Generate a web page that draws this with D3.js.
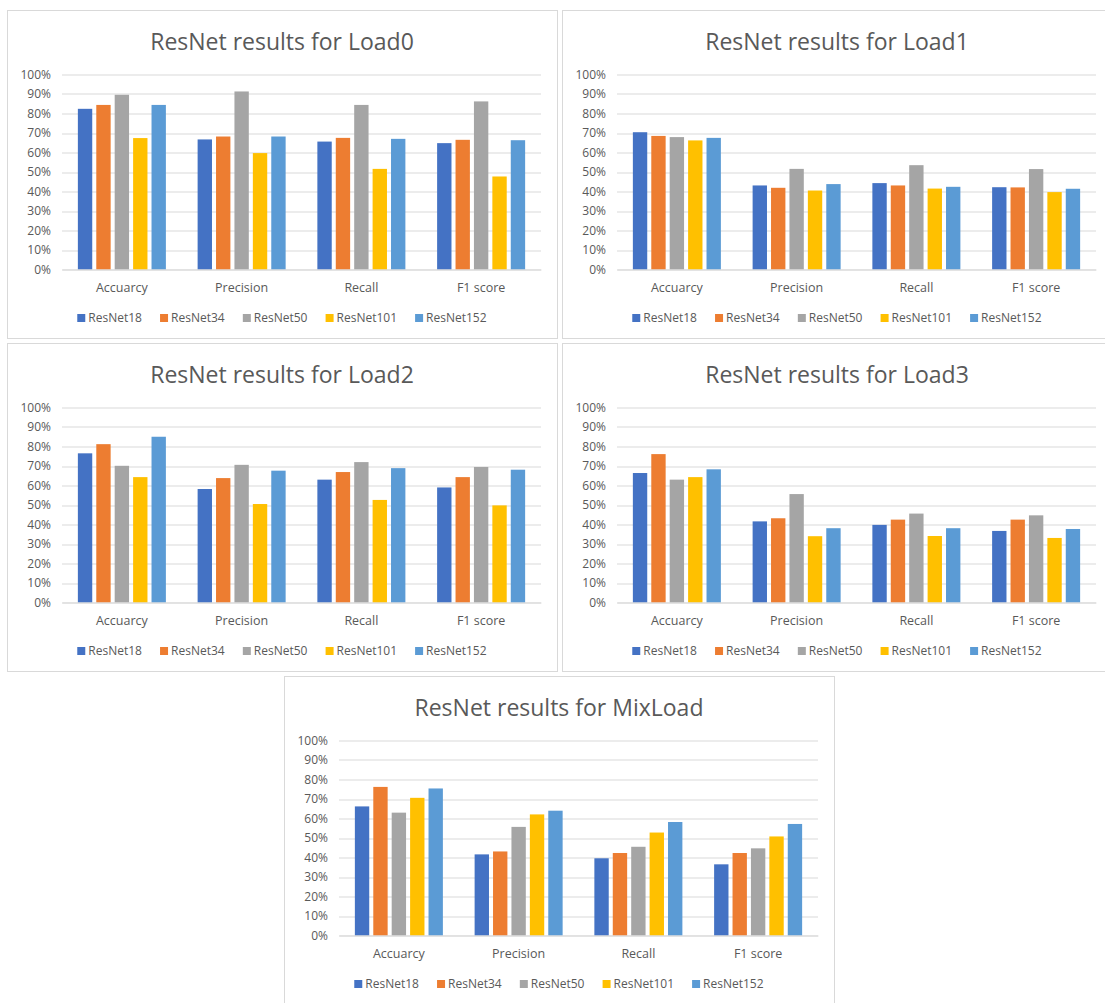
<!DOCTYPE html>
<html>
<head>
<meta charset="utf-8">
<script src="https://cdn.jsdelivr.net/npm/d3@7"></script>
<style>
  html, body { margin: 0; padding: 0; background: #ffffff; }
  svg { display: block; }
  text { font-family: "Open Sans", "Noto Sans", sans-serif; fill: #595959; }
</style>
</head>
<body>
<svg id="chart" width="1105" height="1003"></svg>
<script>
// Metric categories on the x axis
const categories = ["Accuarcy", "Precision", "Recall", "F1 score"];
// Network variants (one bar per variant in each category)
const seriesNames = ["ResNet18", "ResNet34", "ResNet50", "ResNet101", "ResNet152"];
const seriesColors = ["#4472C4", "#ED7D31", "#A5A5A5", "#FFC000", "#5B9BD5"];
// Y axis tick values
const yTicks = [0, 0.1, 0.2, 0.3, 0.4, 0.5, 0.6, 0.7, 0.8, 0.9, 1.0];

// Scores per load condition: rows = networks, columns = metrics
const load0 = [
  [0.824, 0.667, 0.656, 0.648],
  [0.844, 0.682, 0.675, 0.665],
  [0.896, 0.913, 0.844, 0.862],
  [0.674, 0.597, 0.516, 0.477],
  [0.844, 0.682, 0.670, 0.663]
];
const load1 = [
  [0.704, 0.431, 0.443, 0.422],
  [0.685, 0.419, 0.431, 0.421],
  [0.679, 0.516, 0.535, 0.515],
  [0.662, 0.405, 0.415, 0.397],
  [0.675, 0.438, 0.424, 0.414]
];
const load2 = [
  [0.765, 0.582, 0.630, 0.590],
  [0.812, 0.638, 0.669, 0.643],
  [0.701, 0.706, 0.720, 0.695],
  [0.643, 0.505, 0.526, 0.498],
  [0.850, 0.676, 0.689, 0.681]
];
const load3 = [
  [0.664, 0.416, 0.398, 0.367],
  [0.761, 0.432, 0.425, 0.425],
  [0.630, 0.556, 0.456, 0.447],
  [0.643, 0.340, 0.341, 0.331],
  [0.683, 0.381, 0.381, 0.377]
];
const mixLoad = [
  [0.662, 0.416, 0.396, 0.365],
  [0.762, 0.431, 0.423, 0.423],
  [0.630, 0.557, 0.455, 0.447],
  [0.706, 0.621, 0.528, 0.508],
  [0.754, 0.640, 0.582, 0.572]
];

const titles = ["ResNet results for Load0", "ResNet results for Load1",
                "ResNet results for Load2", "ResNet results for Load3",
                "ResNet results for MixLoad"];
const datasets = [load0, load1, load2, load3, mixLoad];

// Panel frames
const panels = [
  { x: 7,   y: 10 },
  { x: 562, y: 10 },
  { x: 7,   y: 343 },
  { x: 562, y: 343 },
  { x: 284, y: 676 }
];
const PW = 550, PH = 328;
const plot = { left: 55, top: 64.5, width: 479, height: 195 };
const FONT = '"Open Sans", "Noto Sans", sans-serif';

const svg = d3.select("#chart");

panels.forEach((p, i) => {
  const data = datasets[i];
  const g = svg.append("g").attr("transform", `translate(${p.x},${p.y})`);

  g.append("rect")
    .attr("x", 0.5).attr("y", 0.5)
    .attr("width", PW).attr("height", PH)
    .attr("fill", "#ffffff")
    .attr("stroke", "#D9D9D9").attr("stroke-width", 1);

  g.append("text")
    .attr("x", PW / 2).attr("y", 40)
    .attr("text-anchor", "middle")
    .style("font-size", "23px")
    .text(titles[i]);

  const pg = g.append("g").attr("transform", `translate(${plot.left},${plot.top})`);

  const y = d3.scaleLinear().domain([0, 1]).range([plot.height, 0]);
  const x0 = d3.scaleBand().domain(categories).range([0, plot.width]).padding(0);
  const groupW = x0.bandwidth() * 0.735;
  const x1 = d3.scaleBand().domain(seriesNames).range([0, groupW]).paddingInner(0.22).paddingOuter(0);

  // gridlines
  pg.append("g")
    .selectAll("line")
    .data(yTicks)
    .join("line")
    .attr("x1", 0).attr("x2", plot.width)
    .attr("y1", d => Math.round(y(d)) + 0.5).attr("y2", d => Math.round(y(d)) + 0.5)
    .attr("stroke", "#D9D9D9").attr("stroke-width", 1);

  // y axis labels
  const yAxis = d3.axisLeft(y).tickValues(yTicks).tickFormat(d3.format(".0%")).tickSize(0).tickPadding(11);
  const ya = pg.append("g").call(yAxis);
  ya.select(".domain").remove();
  ya.selectAll("text").style("font-size", "12px").attr("fill", "#595959")
    .style("font-family", FONT);

  // bars
  const groups = pg.append("g")
    .selectAll("g")
    .data(categories)
    .join("g")
    .attr("transform", d => `translate(${x0(d) + (x0.bandwidth() - groupW) / 2},0)`);

  groups.selectAll("rect")
    .data((c, ci) => seriesNames.map((s, si) => ({ s, si, v: data[si][ci] })))
    .join("rect")
    .attr("x", d => x1(d.s))
    .attr("width", x1.bandwidth())
    .attr("y", d => y(d.v))
    .attr("height", d => y(0) - y(d.v))
    .attr("fill", d => seriesColors[d.si]);

  // x axis labels
  const xAxis = d3.axisBottom(x0).tickSize(0).tickPadding(14);
  const xa = pg.append("g").attr("transform", `translate(0,${plot.height})`).call(xAxis);
  xa.select(".domain").attr("stroke", "#D9D9D9");
  xa.selectAll("text").style("font-size", "12.5px").attr("fill", "#595959")
    .style("font-family", FONT);

  // legend
  const legend = g.append("g").attr("transform", `translate(0,${308})`);
  const items = legend.selectAll("g").data(seriesNames).join("g");
  items.append("rect")
    .attr("width", 8).attr("height", 8).attr("y", -4)
    .attr("fill", (d, k) => seriesColors[k]);
  items.append("text")
    .attr("x", 11).attr("dy", "0.35em")
    .style("font-size", "12px")
    .text(d => d);
  // lay legend items out in a centered row
  let offs = [], cx = 0;
  items.each(function () {
    const w = this.getBBox().width;
    offs.push(cx);
    cx += w + 18;
  });
  const totalW = cx - 18;
  const startX = (PW - totalW) / 2;
  items.attr("transform", (d, k) => `translate(${startX + offs[k]},0)`);
});
</script>
</body>
</html>
